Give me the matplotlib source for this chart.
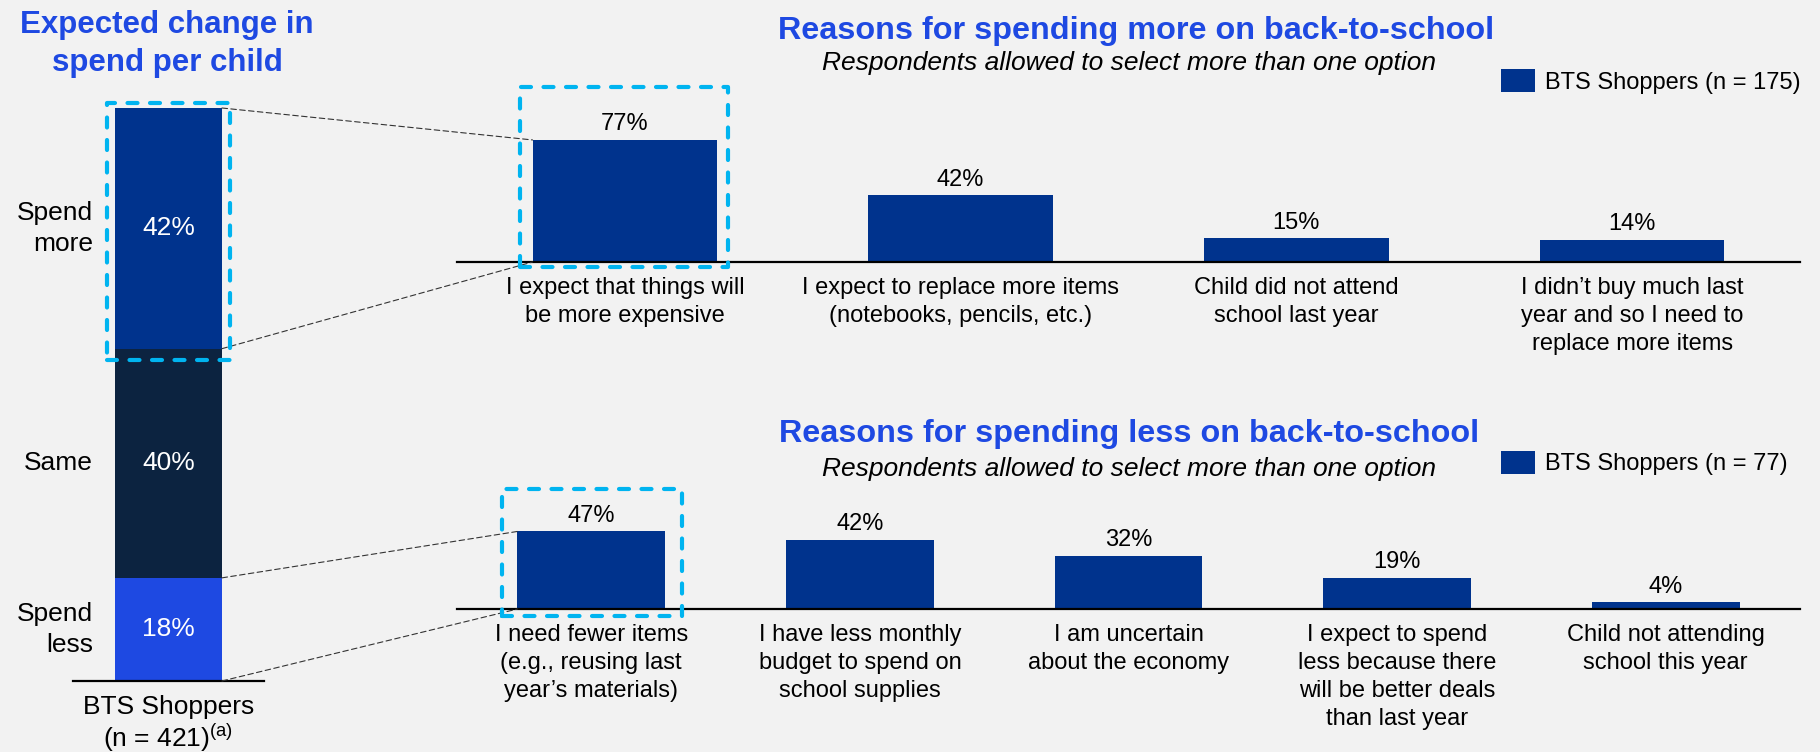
import matplotlib
matplotlib.use('Agg')

import matplotlib.pyplot as plt
from matplotlib.patches import Rectangle, ConnectionPatch

W, H = 1820, 752

# Expected change in spend per child, stacked bottom to top
change_labels = ['Spend\nless', 'Same', 'Spend\nmore']
change_values = [18, 40, 42]
change_colors = ['#1E49E2', '#0C2340', '#00338D']
change_tick = 'BTS Shoppers\n(n = 421)$^{\\mathrm{(a)}}$'

# Reasons for spending more
more_reasons = [
    'I expect that things will\nbe more expensive',
    'I expect to replace more items\n(notebooks, pencils, etc.)',
    'Child did not attend\nschool last year',
    'I didn\u2019t buy much last\nyear and so I need to\nreplace more items',
]
more_values = [77, 42, 15, 14]
more_legend = 'BTS Shoppers (n = 175)'

# Reasons for spending less
less_reasons = [
    'I need fewer items\n(e.g., reusing last\nyear\u2019s materials)',
    'I have less monthly\nbudget to spend on\nschool supplies',
    'I am uncertain\nabout the economy',
    'I expect to spend\nless because there\nwill be better deals\nthan last year',
    'Child not attending\nschool this year',
]
less_values = [47, 42, 32, 19, 4]
less_legend = 'BTS Shoppers (n = 77)'

NAVY = '#00338D'
TITLE_BLUE = '#1E49E2'
HILITE = '#00B4F0'
BG = '#F2F2F2'

plt.rcParams['font.family'] = 'Liberation Sans'
plt.rcParams['mathtext.fontset'] = 'custom'
plt.rcParams['mathtext.rm'] = 'Liberation Sans'
plt.rcParams['text.color'] = 'black'

fig = plt.figure(figsize=(W / 100, H / 100), dpi=100, facecolor=BG)


def px_axes(x0, x1, top, bottom):
    # axes placed by pixel edges measured from the top-left corner
    ax = fig.add_axes([x0 / W, 1 - bottom / H, (x1 - x0) / W, (bottom - top) / H])
    ax.set_facecolor('none')
    for side in ['top', 'right', 'left']:
        ax.spines[side].set_visible(False)
    ax.spines['bottom'].set_linewidth(1.6)
    ax.spines['bottom'].set_color('black')
    ax.set_yticks([])
    ax.tick_params(axis='x', length=0)
    return ax


def fig_text(x, y, s, **kw):
    fig.text(x / W, 1 - y / H, s, **kw)


def highlight(ax, x0, x1, y0, y1, pad):
    # dashed call-out box around a data region, padded in pixels (l, b, r, t)
    l, b = ax.transData.transform((x0, y0))
    r, t = ax.transData.transform((x1, y1))
    inv = fig.transFigure.inverted()
    fl, fb = inv.transform((l - pad[0], b - pad[1]))
    fr, ft = inv.transform((r + pad[2], t + pad[3]))
    box = Rectangle((fl, fb), fr - fl, ft - fb, transform=fig.transFigure,
                    fill=False, edgecolor=HILITE, linewidth=3,
                    linestyle=(0, (2.4, 3.0)), capstyle='round',
                    joinstyle='round', zorder=6)
    fig.add_artist(box)


def connect(ax_a, xy_a, ax_b, xy_b):
    con = ConnectionPatch(xyA=xy_a, coordsA=ax_a.transData,
                          xyB=xy_b, coordsB=ax_b.transData,
                          color='#333333', linewidth=0.8,
                          linestyle=(0, (5, 3)), zorder=1)
    fig.add_artist(con)


# --- left stacked bar ---
ax_l = px_axes(73, 264, 108, 681)
half_l = 0.56
bottom = 0
for lab, v, c in zip(change_labels, change_values, change_colors):
    ax_l.bar(0, v, bottom=bottom, width=2 * half_l, color=c, zorder=2)
    ax_l.text(0, bottom + v / 2, f'{v}%', color='white', fontsize=19,
              ha='center', va='center', zorder=3)
    ax_l.annotate(lab, xy=(-half_l, bottom + v / 2), xytext=(-16, 0),
                  textcoords='offset points', ha='right', va='center',
                  fontsize=19, linespacing=1.35, multialignment='right')
    bottom += v
ax_l.set_xlim(-1, 1)
ax_l.set_ylim(0, 100)
ax_l.set_xticks([0])
ax_l.set_xticklabels([change_tick], fontsize=19, linespacing=1.1)
ax_l.tick_params(axis='x', pad=10)

fig_text(167, 10, 'Expected change in\nspend per child', fontsize=22.5,
         fontweight='bold', color=TITLE_BLUE, ha='center', va='top',
         linespacing=1.35)

# --- reasons for spending more ---
ax_m = px_axes(457, 1800, 103.5, 262)
xm = list(range(len(more_values)))
bars_m = ax_m.bar(xm, more_values, width=0.55, color=NAVY, zorder=2)
for i, v in enumerate(more_values):
    ax_m.annotate(f'{v}%', (i, v), xytext=(0, 7), textcoords='offset points',
                  ha='center', va='baseline', fontsize=17)
ax_m.set_xlim(-0.5, len(more_values) - 0.5)
ax_m.set_ylim(0, 100)
ax_m.set_xticks(xm)
ax_m.set_xticklabels(more_reasons, fontsize=17, linespacing=1.35)
ax_m.tick_params(axis='x', pad=11)
ax_m.legend([bars_m], [more_legend], loc='upper left',
            bbox_to_anchor=(1501 / W, 1 - 69 / H), bbox_transform=fig.transFigure,
            frameon=False, fontsize=17, handlelength=1.45, handleheight=1.15,
            handletextpad=0.42, borderpad=0, borderaxespad=0)

fig_text(1136, 39, 'Reasons for spending more on back-to-school', fontsize=23.3,
         fontweight='bold', color=TITLE_BLUE, ha='center', va='baseline')
fig_text(1129, 70, 'Respondents allowed to select more than one option',
         fontsize=19, fontstyle='italic', ha='center', va='baseline')

# --- reasons for spending less ---
ax_s = px_axes(457, 1800, 444, 609)
xs = list(range(len(less_values)))
bars_s = ax_s.bar(xs, less_values, width=0.55, color=NAVY, zorder=2)
for i, v in enumerate(less_values):
    ax_s.annotate(f'{v}%', (i, v), xytext=(0, 7), textcoords='offset points',
                  ha='center', va='baseline', fontsize=17)
ax_s.set_xlim(-0.5, len(less_values) - 0.5)
ax_s.set_ylim(0, 100)
ax_s.set_xticks(xs)
ax_s.set_xticklabels(less_reasons, fontsize=17, linespacing=1.35)
ax_s.tick_params(axis='x', pad=11)
ax_s.legend([bars_s], [less_legend], loc='upper left',
            bbox_to_anchor=(1501 / W, 1 - 451 / H), bbox_transform=fig.transFigure,
            frameon=False, fontsize=17, handlelength=1.45, handleheight=1.1,
            handletextpad=0.42, borderpad=0, borderaxespad=0)

fig_text(1129.5, 442, 'Reasons for spending less on back-to-school', fontsize=23.3,
         fontweight='bold', color=TITLE_BLUE, ha='center', va='baseline')
fig_text(1129, 476, 'Respondents allowed to select more than one option',
         fontsize=19, fontstyle='italic', ha='center', va='baseline')

# --- call-out boxes and connectors ---
more_top = sum(change_values)
more_bottom = change_values[0] + change_values[1]
less_top = change_values[0]

highlight(ax_l, -half_l, half_l, more_bottom, more_top, (8, 11, 8, 5))
highlight(ax_m, -0.275, 0.275, 0, more_values[0], (13, 5, 11, 53))
highlight(ax_s, -0.275, 0.275, 0, less_values[0], (15, 7, 17, 42))

connect(ax_l, (half_l, more_top), ax_m, (-0.275, more_values[0]))
connect(ax_l, (half_l, more_bottom), ax_m, (-0.275, 0))
connect(ax_l, (half_l, less_top), ax_s, (-0.275, less_values[0]))
connect(ax_l, (half_l, 0), ax_s, (-0.275, 0))

fig.savefig('out.png', dpi=100, facecolor=BG)
